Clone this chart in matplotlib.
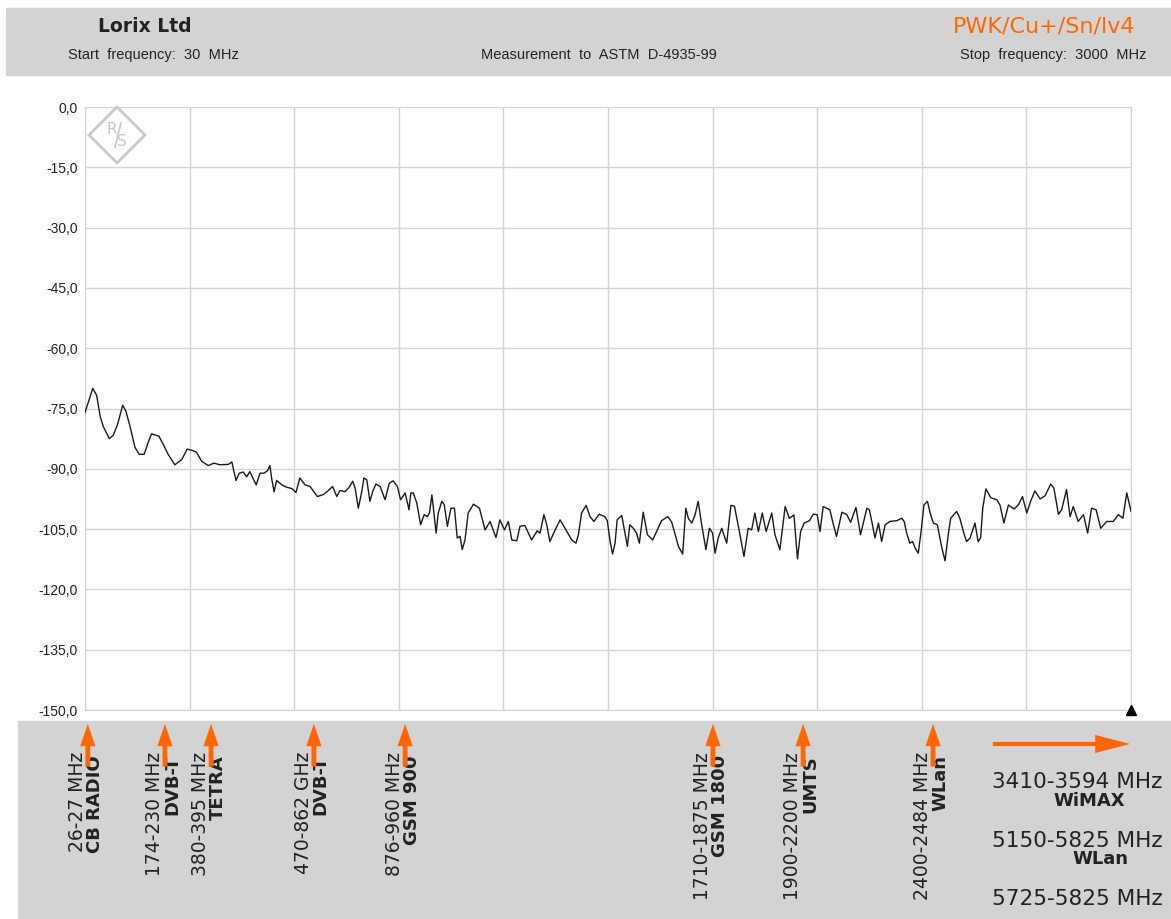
import matplotlib
matplotlib.use('Agg')
import matplotlib.pyplot as plt
from matplotlib.patches import Rectangle, Polygon
from matplotlib.ticker import FuncFormatter
import numpy as np

# shielding trace (MHz, dB)
freq_mhz = [
    30, 52, 63, 73, 82, 99, 110, 122, 137, 146,
    158, 172, 184, 198, 210, 219, 240, 252, 266, 285,
    305, 320, 337, 347, 361, 380, 396, 413, 437, 447,
    453, 459, 468, 479, 489, 498, 516, 527, 538, 548,
    555, 560, 567, 574, 589, 603, 617, 629, 640, 655,
    669, 690, 707, 721, 733, 745, 754, 768, 780,
    790, 797, 806, 816, 822, 830, 839, 847, 856, 868,
    882, 894, 905, 917, 926, 939, 950, 955, 962, 972,
    983, 993, 1002, 1008, 1015, 1027, 1033, 1043, 1050, 1059,
    1069, 1079, 1087, 1095, 1101, 1109, 1118, 1133, 1150, 1166,
    1180, 1197, 1208, 1221, 1232, 1242, 1256, 1265, 1279, 1298,
    1314, 1322, 1333, 1341, 1350, 1365, 1379, 1393, 1412, 1424,
    1431, 1440, 1453, 1464, 1475, 1490, 1506,
    1513, 1521, 1528, 1535, 1541, 1554, 1563, 1570, 1577, 1587,
    1596, 1604, 1615, 1627, 1642, 1653, 1667, 1685, 1696, 1715,
    1727, 1736, 1743, 1753, 1762, 1771, 1781, 1793, 1803, 1812,
    1819, 1828, 1838, 1852, 1864, 1874, 1888, 1901, 1913, 1923,
    1932, 1942, 1953, 1964, 1970, 1980, 1989, 2003, 2018, 2030,
    2043, 2053, 2062, 2072, 2087, 2098, 2109, 2117, 2126, 2145,
    2155, 2164, 2179, 2193, 2204, 2219, 2232, 2250,
    2257, 2264, 2273, 2283, 2292, 2302, 2316, 2335, 2349, 2356,
    2363, 2372, 2380, 2387, 2396, 2404, 2412, 2422, 2431, 2439,
    2450, 2463, 2472, 2481, 2488, 2505, 2514, 2524, 2533, 2543,
    2557, 2566, 2573, 2579, 2588, 2602, 2619, 2628, 2639, 2652,
    2668, 2680, 2692, 2704, 2715, 2727, 2742, 2756, 2772, 2781,
    2794, 2803, 2817, 2827, 2836, 2850, 2865, 2877, 2888, 2901,
    2914, 2931, 2950, 2964, 2977, 2988, 3000,
]
level_db = [
    -76.0, -70.0, -71.7, -76.9, -79.5, -82.5, -81.7, -79.1, -74.2, -75.6,
    -79.5, -84.7, -86.4, -86.4, -83.3, -81.3, -81.9, -83.9, -86.4, -89.0,
    -87.7, -85.1, -85.5, -85.9, -88.1, -89.2, -88.6, -89.0, -88.9, -88.3,
    -90.7, -92.9, -91.1, -90.8, -92.0, -90.7, -94.0, -91.1, -91.1, -90.5,
    -89.2, -92.4, -95.7, -92.9, -94.0, -94.6, -94.9, -95.9, -92.3, -94.0,
    -94.4, -96.9, -96.4, -95.4, -94.4, -96.9, -95.4, -95.7, -94.6,
    -93.1, -94.8, -99.8, -95.6, -92.3, -92.7, -98.1, -95.6, -93.8, -94.4,
    -97.7, -93.6, -93.0, -94.4, -97.7, -96.0, -100.2, -96.0, -96.0, -98.5,
    -103.9, -101.4, -101.9, -101.0, -96.5, -106.0, -101.0, -98.1, -98.9, -104.3,
    -99.8, -99.8, -107.2, -106.8, -110.1, -107.7, -101.0, -98.8, -99.8, -105.2,
    -103.1, -107.1, -102.7, -105.2, -103.1, -107.7, -107.9, -104.3, -104.1, -107.7,
    -105.4, -106.0, -101.4, -103.9, -108.1, -105.2, -102.7, -104.8, -107.7, -108.5,
    -106.4, -101.0, -99.1, -101.9, -103.1, -101.3, -101.9,
    -102.9, -108.1, -111.2, -108.5, -102.7, -101.6, -106.0, -109.3, -103.9, -104.8,
    -106.0, -108.5, -100.8, -106.4, -107.7, -105.6, -102.9, -101.9, -103.3, -109.3,
    -111.2, -99.8, -102.3, -103.5, -101.5, -98.1, -103.9, -110.1, -104.8, -106.0,
    -111.0, -107.2, -104.8, -108.5, -99.1, -99.3, -105.6, -111.8, -104.8, -105.2,
    -101.0, -105.6, -101.0, -105.6, -103.9, -101.0, -106.4, -110.1, -99.4, -102.3,
    -101.5, -112.4, -105.6, -103.5, -102.9, -101.3, -101.4, -105.6, -99.4, -100.2,
    -103.9, -106.8, -100.8, -101.4, -103.3, -99.6, -106.4, -99.8,
    -100.2, -103.1, -107.2, -103.5, -108.1, -103.9, -103.1, -102.9, -102.3, -103.1,
    -106.0, -108.5, -108.1, -109.7, -111.0, -105.6, -99.0, -98.1, -101.4, -103.5,
    -103.9, -109.7, -112.9, -106.4, -102.3, -100.6, -102.3, -105.6, -108.1, -107.2,
    -103.5, -108.1, -107.2, -99.8, -95.0, -97.2, -97.7, -99.0, -103.5, -99.0,
    -100.0, -99.0, -96.9, -101.0, -98.1, -95.5, -97.5, -96.7, -93.8, -94.8,
    -101.3, -100.2, -95.2, -101.9, -99.4, -103.1, -101.4, -106.0, -99.8, -100.2,
    -104.8, -103.1, -103.1, -101.4, -102.3, -96.0, -100.6,
]
assert len(freq_mhz) == len(level_db)

# service bands marked under the chart
band_freq = [38, 257, 388, 680, 939, 1813, 2069, 2438]
band_range = ['26-27 MHz', '174-230 MHz', '380-395 MHz', '470-862 GHz',
              '876-960 MHz', '1710-1875 MHz', '1900-2200 MHz', '2400-2484 MHz']
band_name = ['CB RADIO', 'DVB-T', 'TETRA', 'DVB-T', 'GSM 900',
             'GSM 1800', 'UMTS', 'WLan']
beyond_range = ['3410-3594 MHz', '5150-5825 MHz', '5725-5825 MHz']
beyond_name = ['WiMAX', 'WLan', '']

f_start, f_stop = 30, 3000
y_ticks = np.arange(0, -151, -15)

W, H = 1171, 919
orange = '#ff6600'
band_grey = '#d3d3d3'
grid_grey = '#d4d4d4'

fig = plt.figure(figsize=(W / 100, H / 100), dpi=100)

# header strip
fig.patches.append(Rectangle((6 / W, 1 - 75 / H), 1, 67 / H, transform=fig.transFigure,
                             color=band_grey, zorder=-1))
fig.text(98 / W, 1 - 27 / H, 'Lorix Ltd', fontsize=13.5, fontweight='bold', color='#222222',
         va='center', ha='left')
fig.text(953 / W, 1 - 27 / H, 'PWK/Cu+/Sn/lv4', fontsize=16, color=orange,
         va='center', ha='left')
small = dict(family='Liberation Sans', fontsize=10.5, color='#222222', va='center')
fig.text(68 / W, 1 - 55 / H, 'Start  frequency:  30  MHz', ha='left', **small)
fig.text(599 / W, 1 - 55 / H, 'Measurement  to  ASTM  D-4935-99', ha='center', **small)
fig.text(1147 / W, 1 - 55 / H, 'Stop  frequency:  3000  MHz', ha='right', **small)

# main plot
ax = fig.add_axes([85 / W, 1 - 710 / H, 1046 / W, 603 / H])
ax.plot(freq_mhz, level_db, color='#1a1a1a', lw=1.0, zorder=3)
ax.set_xlim(f_start, f_stop)
ax.set_ylim(-150, 0)
ax.set_xticks(np.linspace(f_start, f_stop, 11))
ax.set_yticks(y_ticks)
ax.grid(color=grid_grey, lw=1)
ax.tick_params(length=0, labelbottom=False, pad=5, labelsize=10, labelcolor='#222222')
for lab in ax.get_yticklabels():
    lab.set_family('Liberation Sans')
ax.yaxis.set_major_formatter(FuncFormatter(lambda v, p: f'{v + 0.0:.1f}'.replace('.', ',')))
for s in ax.spines.values():
    s.set_color(grid_grey)
ax.plot([f_stop], [-150], marker='^', color='black', ms=7, clip_on=False, zorder=6)

# R&S logo
cx, cy, r = 117 / W, 1 - 135 / H, 28
logo = Polygon([(cx, cy + r / H), (cx + r / W, cy), (cx, cy - r / H), (cx - r / W, cy)],
               closed=True, fill=False, ec='#c8c8c8', lw=2, transform=fig.transFigure)
fig.patches.append(logo)
fig.text(cx - 5 / W, cy + 5 / H, 'R', fontsize=11, color='#c8c8c8', ha='center', va='center')
fig.text(cx + 5 / W, cy - 7 / H, 'S', fontsize=11, color='#c8c8c8', ha='center', va='center')
fig.lines.append(plt.Line2D([cx - 2 / W, cx + 4 / W], [cy - 12 / H, cy + 12 / H],
                            color='#c8c8c8', lw=1.2, transform=fig.transFigure))

# bottom strip with service bands
fig.patches.append(Rectangle((18 / W, 0), 1, 198 / H, transform=fig.transFigure,
                             color=band_grey, zorder=-1))
bx = fig.add_axes([85 / W, 0, 1046 / W, 198 / H])
bx.set_xlim(f_start, f_stop)
bx.set_ylim(0, 1)
bx.axis('off')

up = 'simple,head_length=1.6,head_width=1.1,tail_width=0.35'
for f, rng, name in zip(band_freq, band_range, band_name):
    bx.annotate(rng, xy=(f, 0.843), xytext=(-7.5, 0), textcoords='offset points',
                rotation=90, ha='center', va='top', fontsize=13.5, color='#222222')
    bx.annotate(name, xy=(f, 0.828), xytext=(5, 0), textcoords='offset points',
                rotation=90, ha='center', va='top', fontsize=13, fontweight='bold',
                color='#222222')
    bx.annotate('', xy=(f, 0.985), xytext=(f, 0.77), annotation_clip=False,
                arrowprops=dict(arrowstyle=up, fc=orange, ec='none', shrinkA=0, shrinkB=0))

right = 'simple,head_length=2.5,head_width=1.3,tail_width=0.3'
bx.annotate('', xy=(2997, 0.884), xytext=(2608, 0.884), annotation_clip=False,
            arrowprops=dict(arrowstyle=right, fc=orange, ec='none', shrinkA=0, shrinkB=0))
for i, (rng, name) in enumerate(zip(beyond_range, beyond_name)):
    y0 = 0.692 - i * 0.296
    bx.text(2605, y0, rng, fontsize=15.6, color='#222222', ha='left', va='center', clip_on=False)
    if name:
        bx.text(2882 + i * 30, y0 - 0.094, name, fontsize=13, fontweight='bold',
                color='#222222', ha='center', va='center', clip_on=False)

fig.savefig('out.png', dpi=100)
